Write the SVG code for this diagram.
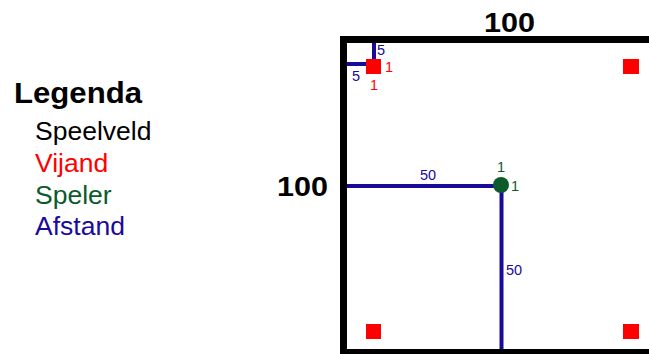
<svg xmlns="http://www.w3.org/2000/svg" width="649" height="354" viewBox="0 0 649 354">
<style>
text{font-family:"Liberation Sans",Arial,sans-serif}
.big{font-size:27px;font-weight:bold;fill:#000}
.leg{font-size:26.5px}
.lbl{font-size:14.5px}
.blue{fill:#1a0a9a}
.red{fill:#ff0000}
.green{fill:#0b5a2a}
.dist{stroke:#1a0a9a;stroke-width:4;fill:none}
.enemy{fill:#ff0000}
</style>
<rect width="649" height="354" fill="#fff"/>
<g id="legend">
<text x="14" y="103" style="font-size:30px;font-weight:bold" textLength="128" lengthAdjust="spacingAndGlyphs">Legenda</text>
<text x="35" y="140" class="leg">Speelveld</text>
<text x="35" y="172" class="leg red">Vijand</text>
<text x="35" y="204" class="leg green">Speler</text>
<text x="35" y="235" class="leg blue">Afstand</text>
</g>
<g id="field">
<rect x="343.5" y="39.5" width="330" height="313" fill="none" stroke="#000" stroke-width="7"/>
<text x="484" y="32" class="big" textLength="51" lengthAdjust="spacingAndGlyphs">100</text>
<text x="277" y="196" class="big" textLength="51" lengthAdjust="spacingAndGlyphs">100</text>
</g>
<g id="connectors">
<line class="dist" x1="374" y1="43" x2="374" y2="60"/>
<line class="dist" x1="347" y1="64" x2="367" y2="64"/>
<line class="dist" x1="347" y1="186" x2="500" y2="186"/>
<line class="dist" x1="501.5" y1="186" x2="501.5" y2="349"/>
<text x="377" y="55" class="lbl blue">5</text>
<text x="352" y="81" class="lbl blue">5</text>
<text x="420" y="180" class="lbl blue">50</text>
<text x="506" y="275" class="lbl blue">50</text>
</g>
<g id="enemy-tl">
<rect class="enemy" x="366" y="59" width="15" height="15"/>
<text x="385" y="72" class="lbl red">1</text>
<text x="370" y="90" class="lbl red">1</text>
</g>
<g id="enemy-tr"><rect class="enemy" x="623" y="59" width="16" height="15"/></g>
<g id="enemy-bl"><rect class="enemy" x="366" y="324" width="15" height="15"/></g>
<g id="enemy-br"><rect class="enemy" x="623" y="324" width="16" height="15"/></g>
<g id="player">
<circle cx="501" cy="185" r="8" fill="#0b5a2a"/>
<text x="497" y="172" class="lbl green">1</text>
<text x="511" y="191" class="lbl green">1</text>
</g>
</svg>
